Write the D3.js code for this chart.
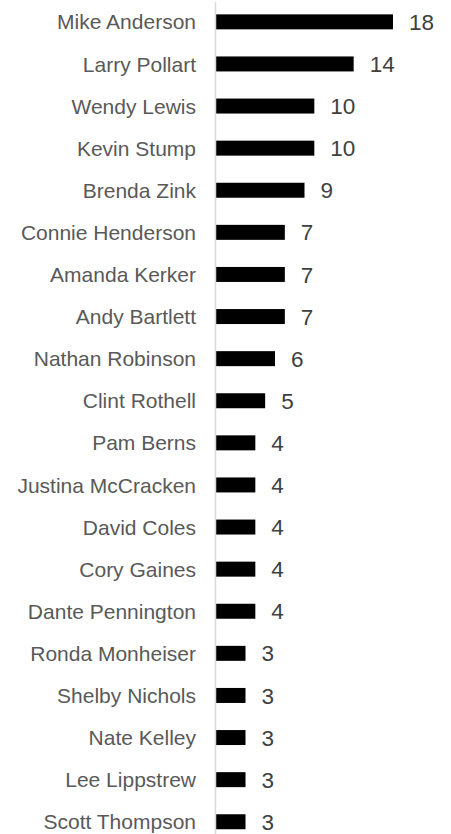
<!DOCTYPE html>
<html>
<head>
<meta charset="utf-8">
<script src="https://cdn.jsdelivr.net/npm/d3@7"></script>
<style>
  html, body { margin: 0; padding: 0; background: #fff; }
  svg { display: block; }
</style>
</head>
<body>
<div id="chart"></div>
<script>
const names = [
  'Mike Anderson', 'Larry Pollart', 'Wendy Lewis', 'Kevin Stump', 'Brenda Zink',
  'Connie Henderson', 'Amanda Kerker', 'Andy Bartlett', 'Nathan Robinson', 'Clint Rothell',
  'Pam Berns', 'Justina McCracken', 'David Coles', 'Cory Gaines', 'Dante Pennington',
  'Ronda Monheiser', 'Shelby Nichols', 'Nate Kelley', 'Lee Lippstrew', 'Scott Thompson'
];
const counts = [18, 14, 10, 10, 9, 7, 7, 7, 6, 5, 4, 4, 4, 4, 4, 3, 3, 3, 3, 3];

const width = 451;
const height = 834;
const axisX = 216;

const svg = d3.select('#chart').append('svg')
  .attr('width', width)
  .attr('height', height);

const x = d3.scaleLinear()
  .domain([0, 18])
  .range([axisX, 393]);

const y = d3.scaleBand()
  .domain(names)
  .range([0.8, 842.8])
  .paddingInner(0.644)
  .paddingOuter(0.322);

svg.append('g')
  .selectAll('rect')
  .data(names)
  .join('rect')
  .attr('x', x(0))
  .attr('y', d => y(d))
  .attr('width', (d, i) => x(counts[i]) - x(0))
  .attr('height', y.bandwidth())
  .attr('fill', '#000');

// category axis line
svg.append('line')
  .attr('x1', axisX - 0.5)
  .attr('x2', axisX - 0.5)
  .attr('y1', 2)
  .attr('y2', height)
  .attr('stroke', '#d9d9d9')
  .attr('stroke-width', 1.5);

svg.append('g')
  .selectAll('text')
  .data(names)
  .join('text')
  .attr('x', 196)
  .attr('y', d => y(d) + y.bandwidth() / 2)
  .attr('dy', '0.36em')
  .attr('text-anchor', 'end')
  .style('font-family', '"Liberation Sans", Arial, sans-serif')
  .style('font-size', '21px')
  .style('fill', '#595959')
  .text(d => d);

svg.append('g')
  .selectAll('text')
  .data(names)
  .join('text')
  .attr('x', (d, i) => x(counts[i]) + 16)
  .attr('y', d => y(d) + y.bandwidth() / 2)
  .attr('dy', '0.36em')
  .style('font-family', '"Liberation Sans", Arial, sans-serif')
  .style('font-size', '22.5px')
  .style('fill', '#404040')
  .text((d, i) => counts[i]);
</script>
</body>
</html>
